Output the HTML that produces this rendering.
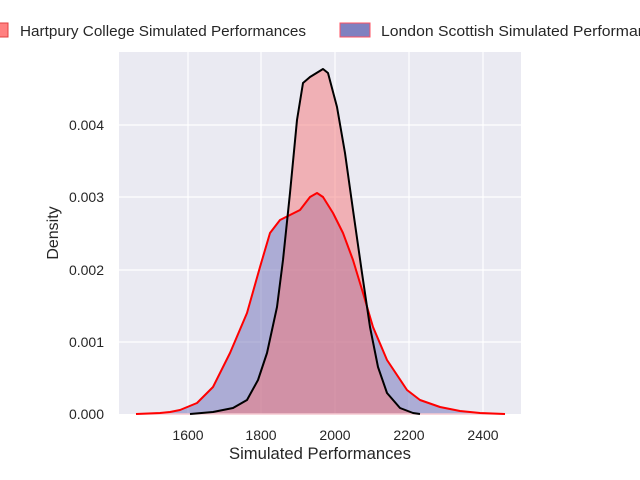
<!DOCTYPE html>
<html><head><meta charset="utf-8"><style>
html,body{margin:0;padding:0;background:#fff;}
svg{display:block;font-family:"Liberation Sans",sans-serif;}
</style></head><body>
<svg width="640" height="480" viewBox="0 0 640 480">
<rect x="119" y="52" width="402" height="362" fill="#eaeaf2"/>
<g stroke="#fff" stroke-width="1.2">
<line x1="188" y1="52" x2="188" y2="414"/><line x1="261" y1="52" x2="261" y2="414"/>
<line x1="335" y1="52" x2="335" y2="414"/><line x1="409" y1="52" x2="409" y2="414"/>
<line x1="483" y1="52" x2="483" y2="414"/>
<line x1="119" y1="342" x2="521" y2="342"/><line x1="119" y1="270" x2="521" y2="270"/>
<line x1="119" y1="197" x2="521" y2="197"/><line x1="119" y1="125" x2="521" y2="125"/>
</g>
<path d="M136,414 L160,413 L170,412 L180,410 L197,403 L213,387 L230,353 L247,313 L260,267 L270,233 L280,220 L290,215 L300,210 L310,197 L317,193 L323,197 L333,213 L343,233 L353,260 L363,293 L373,327 L387,360 L407,390 L420,400 L440,407 L460,411 L480,413 L505,414 Z" fill="#7f7fbf" fill-opacity="0.58"/>
<path d="M190,414 L213,412 L233,408 L247,400 L258,380 L267,353 L277,307 L283,260 L290,193 L297,120 L303,83 L310,77 L323,69 L328,73 L337,107 L345,153 L353,210 L362,273 L370,327 L378,367 L387,393 L400,408 L413,413 L420,414 Z" fill="#f67678" fill-opacity="0.5"/>
<line x1="136" y1="414" x2="505" y2="414" stroke="#f5c8d0" stroke-width="1.5"/>
<path d="M136,414 L160,413 L170,412 L180,410 L197,403 L213,387 L230,353 L247,313 L260,267 L270,233 L280,220 L290,215 L300,210 L310,197 L317,193 L323,197 L333,213 L343,233 L353,260 L363,293 L373,327 L387,360 L407,390 L420,400 L440,407 L460,411 L480,413 L505,414" fill="none" stroke="#ff0000" stroke-width="2" stroke-linejoin="round"/>
<path d="M190,414 L213,412 L233,408 L247,400 L258,380 L267,353 L277,307 L283,260 L290,193 L297,120 L303,83 L310,77 L323,69 L328,73 L337,107 L345,153 L353,210 L362,273 L370,327 L378,367 L387,393 L400,408 L413,413 L420,414" fill="none" stroke="#000" stroke-width="2" stroke-linejoin="round"/>
<g font-size="14" fill="#262626">
<text x="188" y="440" text-anchor="middle">1600</text><text x="261" y="440" text-anchor="middle">1800</text>
<text x="335" y="440" text-anchor="middle">2000</text><text x="409" y="440" text-anchor="middle">2200</text>
<text x="483" y="440" text-anchor="middle">2400</text>
<text x="104" y="419" text-anchor="end">0.000</text><text x="104" y="347" text-anchor="end">0.001</text>
<text x="104" y="275" text-anchor="end">0.002</text><text x="104" y="202" text-anchor="end">0.003</text>
<text x="104" y="130" text-anchor="end">0.004</text>
</g>
<text x="229" y="459" textLength="182" lengthAdjust="spacingAndGlyphs" font-size="16.5" fill="#262626">Simulated Performances</text>
<text x="0" y="0" transform="translate(58,233) rotate(-90)" text-anchor="middle" font-size="16" fill="#262626">Density</text>
<rect x="-6" y="23" width="14" height="14" fill="#ff8080" stroke="#e04040" stroke-width="1"/>
<text x="20" y="36" textLength="286" lengthAdjust="spacingAndGlyphs" font-size="15" fill="#262626">Hartpury College Simulated Performances</text>
<rect x="340" y="23" width="30" height="14" fill="#8080c0" stroke="#ff5060" stroke-width="1"/>
<text x="381" y="36" textLength="290" lengthAdjust="spacingAndGlyphs" font-size="15" fill="#262626">London Scottish Simulated Performances</text>
</svg>
</body></html>
